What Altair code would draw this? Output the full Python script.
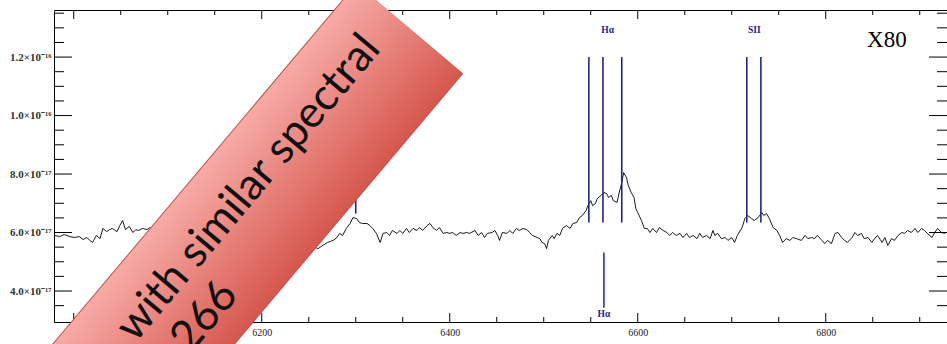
import altair as alt
import pandas as pd

# ---------------- data ----------------
wavelength = [
    5980, 5985, 5990, 5996, 6001, 6006, 6010, 6014, 6017, 6020, 6024, 6028, 6031, 6035, 6038,
    6041, 6046, 6049, 6052, 6055, 6059, 6063, 6066, 6069, 6073, 6078, 6081,
    6085, 6090, 6095, 6100, 6105, 6110, 6115, 6120, 6125, 6130, 6135, 6140, 6145, 6150, 6155,
    6160, 6165, 6170, 6175, 6180, 6185, 6190, 6195, 6200, 6205, 6210, 6215, 6220, 6225, 6230,
    6235, 6240, 6245, 6250, 6255,
    6260, 6265, 6270, 6276, 6280, 6283, 6286, 6290, 6294, 6297, 6301, 6304, 6307, 6312, 6315,
    6318, 6322, 6326, 6329, 6333, 6336, 6339, 6344, 6347, 6350, 6354, 6357, 6361, 6365, 6368,
    6371, 6376, 6379, 6382, 6386, 6389, 6393, 6397, 6400, 6403, 6407, 6411, 6414, 6418, 6421,
    6427, 6430, 6434, 6437, 6440, 6445, 6448, 6451, 6453, 6456, 6461, 6464, 6467, 6471, 6474,
    6478, 6482, 6485, 6488, 6493, 6496, 6498, 6501, 6503, 6505, 6509, 6511, 6514, 6517, 6520,
    6524, 6528, 6531, 6535, 6538, 6541, 6545, 6547, 6550, 6552, 6555, 6557, 6561, 6564, 6567,
    6569, 6572, 6574, 6578, 6580, 6583, 6585, 6588, 6590, 6593, 6596, 6598, 6600, 6604, 6607,
    6610, 6613, 6616, 6620, 6623, 6627, 6631, 6634, 6637, 6641, 6645, 6648, 6652, 6655, 6659,
    6663, 6666, 6669, 6673, 6677, 6680, 6682, 6685, 6689, 6693, 6696, 6700, 6703, 6706, 6711,
    6714, 6717, 6721, 6724, 6728, 6732, 6734, 6737, 6740, 6744, 6748, 6751, 6754, 6758, 6762,
    6765, 6769,
    6774, 6778, 6781, 6785, 6788, 6791, 6796, 6799, 6802, 6806, 6810, 6813, 6817, 6820, 6823,
    6828, 6831, 6834, 6838, 6841, 6845, 6849, 6852, 6855, 6860, 6863, 6866, 6870, 6873, 6877,
    6881, 6884, 6887, 6891, 6895, 6898, 6902, 6905, 6908, 6913, 6916, 6919, 6923, 6927,
]
flux = [  # units of 1e-16 erg/s/cm2/A
    0.590, 0.586, 0.593, 0.586, 0.583, 0.586, 0.576, 0.583, 0.573, 0.566, 0.590, 0.579, 0.614, 0.603, 0.610,
    0.614, 0.603, 0.624, 0.641, 0.610, 0.621, 0.600, 0.610, 0.607, 0.614, 0.610, 0.617,
    0.605, 0.612, 0.598, 0.606, 0.594, 0.603, 0.609, 0.596, 0.604, 0.592, 0.600, 0.588, 0.597, 0.604, 0.590,
    0.598, 0.585, 0.594, 0.583, 0.591, 0.579, 0.588, 0.577, 0.585, 0.573, 0.581, 0.570, 0.578, 0.566, 0.574,
    0.562, 0.570, 0.558, 0.565, 0.552,
    0.545, 0.556, 0.566, 0.573, 0.583, 0.597, 0.590, 0.614, 0.631, 0.651, 0.648, 0.634, 0.631, 0.631, 0.624,
    0.614, 0.597, 0.566, 0.597, 0.600, 0.590, 0.607, 0.597, 0.607, 0.597, 0.614, 0.600, 0.614, 0.607, 0.617,
    0.607, 0.624, 0.631, 0.617, 0.607, 0.617, 0.597, 0.600, 0.597, 0.600, 0.590, 0.600, 0.597, 0.600, 0.597,
    0.607, 0.590, 0.600, 0.583, 0.597, 0.600, 0.607, 0.590, 0.573, 0.600, 0.597, 0.607, 0.597, 0.614, 0.607,
    0.614, 0.610, 0.600, 0.590, 0.583, 0.579, 0.566, 0.562, 0.545, 0.573, 0.590, 0.579, 0.597, 0.590, 0.614,
    0.624, 0.614, 0.631, 0.634, 0.651, 0.658, 0.675, 0.692, 0.709, 0.692, 0.699, 0.716, 0.727, 0.737, 0.733,
    0.720, 0.727, 0.709, 0.703, 0.733, 0.771, 0.805, 0.788, 0.761, 0.737, 0.720, 0.682, 0.668, 0.641, 0.614,
    0.614, 0.600, 0.614, 0.600, 0.617, 0.607, 0.600, 0.590, 0.600, 0.590, 0.597, 0.583, 0.597, 0.583, 0.590,
    0.579, 0.597, 0.583, 0.590, 0.579, 0.607, 0.590, 0.597, 0.579, 0.583, 0.573, 0.583, 0.566, 0.590, 0.617,
    0.648, 0.658, 0.648, 0.641, 0.651, 0.668, 0.658, 0.665, 0.648, 0.617, 0.607, 0.590, 0.566, 0.579, 0.573,
    0.583, 0.579,
    0.573, 0.590, 0.579, 0.583, 0.579, 0.590, 0.573, 0.562, 0.573, 0.562, 0.597, 0.600, 0.583, 0.573, 0.566,
    0.583, 0.600, 0.590, 0.597, 0.579, 0.583, 0.566, 0.579, 0.590, 0.566, 0.583, 0.556, 0.579, 0.573, 0.590,
    0.600, 0.597, 0.607, 0.600, 0.614, 0.600, 0.614, 0.607, 0.597, 0.583, 0.600, 0.614, 0.600, 0.597,
]

# emission line markers (upper set)
line_names = ["[OI]", "[NII]", "Hα", "[NII]", "[SII]", "[SII]"]
line_wl = [6300, 6548, 6563, 6583, 6716, 6731]
line_top = [1.2, 1.2, 1.2, 1.2, 1.2, 1.2]
line_bottom = [0.665, 0.634, 0.634, 0.634, 0.634, 0.634]

# upper line labels
top_label_text = ["Hα", "SII"]
top_label_wl = [6568, 6724]
top_label_flux = [1.292, 1.292]

# lower marker
low_line_wl = [6564]
low_line_top = [0.532]
low_line_bottom = [0.343]
low_label_text = ["Hα"]
low_label_flux = [0.322]

# panel tag
tag_text = ["X80"]
tag_wl = [6865]
tag_flux = [1.257]

# axis ticks and labels
x_major = [6000, 6200, 6400, 6600, 6800]
x_minor = [6050, 6100, 6150, 6250, 6300, 6350, 6450, 6500, 6550, 6650, 6700, 6750, 6850, 6900]
y_major = [0.4, 0.6, 0.8, 1.0, 1.2]
y_major_labels = ["4.0×10⁻¹⁷", "6.0×10⁻¹⁷", "8.0×10⁻¹⁷", "1.0×10⁻¹⁶", "1.2×10⁻¹⁶"]
y_minor = [0.35, 0.45, 0.5, 0.55, 0.65, 0.7, 0.75, 0.85, 0.9, 0.95, 1.05, 1.1, 1.15, 1.25, 1.3, 1.35]

x_domain = [5979, 6929]
y_domain = [0.294, 1.361]

# overlay banner (slide annotation) in data units
banner_start = [6357.4, 1.2977]
banner_end = [6028.7, 0.0443]
banner_lines = ["with similar spectral", "266"]
banner_line_wl = [6186.2, 6139.4]
banner_line_flux = [0.752, 0.311]

# ---------------- chart ----------------
W, H = 893, 312
xs = alt.Scale(domain=x_domain, nice=False, zero=False)
ys = alt.Scale(domain=y_domain, nice=False, zero=False)

label_expr = " : ".join(
    f"abs(datum.value-{v})<1e-6 ? '{t}'" for v, t in zip(y_major, y_major_labels)
) + " : ''"

spec_df = pd.DataFrame({"wl": wavelength, "flux": flux})
spectrum = alt.Chart(spec_df).mark_line(color="black", strokeWidth=0.9).encode(
    x=alt.X("wl:Q", scale=xs, axis=alt.Axis(
        values=x_major, format="d", ticks=False, domain=False, grid=False, title=None,
        labelFont="Liberation Serif", labelFontSize=10, labelColor="#222", labelPadding=5)),
    y=alt.Y("flux:Q", scale=ys, axis=alt.Axis(
        values=y_major, labelExpr=label_expr, ticks=False, domain=False, grid=False, title=None,
        labelFont="Liberation Serif", labelFontSize=11, labelFontWeight="bold",
        labelColor="#333", labelPadding=3)),
)

LINE_BLUE = "#22228c"
lines_df = pd.DataFrame({"name": line_names, "wl": line_wl, "top": line_top, "bot": line_bottom})
em_lines = alt.Chart(lines_df).mark_rule(color=LINE_BLUE, strokeWidth=1.6).encode(
    x=alt.X("wl:Q", scale=xs), y=alt.Y("top:Q", scale=ys), y2="bot:Q")

top_lab_df = pd.DataFrame({"t": top_label_text, "wl": top_label_wl, "f": top_label_flux})
top_labels = alt.Chart(top_lab_df).mark_text(
    color=LINE_BLUE, font="Liberation Serif", fontSize=9.5, fontWeight="bold", baseline="middle"
).encode(x=alt.X("wl:Q", scale=xs), y=alt.Y("f:Q", scale=ys), text="t:N")

low_df = pd.DataFrame({"wl": low_line_wl, "top": low_line_top, "bot": low_line_bottom,
                       "t": low_label_text, "f": low_label_flux})
low_line = alt.Chart(low_df).mark_rule(color="#3030b0", strokeWidth=1.6).encode(
    x=alt.X("wl:Q", scale=xs), y=alt.Y("top:Q", scale=ys), y2="bot:Q")
low_label = alt.Chart(low_df).mark_text(
    color=LINE_BLUE, font="Liberation Serif", fontSize=9.5, fontWeight="bold", baseline="middle"
).encode(x=alt.X("wl:Q", scale=xs), y=alt.Y("f:Q", scale=ys), text="t:N")

tag_df = pd.DataFrame({"t": tag_text, "wl": tag_wl, "f": tag_flux})
tag = alt.Chart(tag_df).mark_text(
    color="black", font="Liberation Serif", fontSize=23, baseline="middle"
).encode(x=alt.X("wl:Q", scale=xs), y=alt.Y("f:Q", scale=ys), text="t:N")

# frame ticks (inward)
def xticks(vals, ln):
    d = pd.DataFrame({"v": vals})
    b = alt.Chart(d).mark_rule(color="black", strokeWidth=1).encode(
        x=alt.X("v:Q", scale=xs), y=alt.value(H), y2=alt.value(H - ln))
    t = alt.Chart(d).mark_rule(color="black", strokeWidth=1).encode(
        x=alt.X("v:Q", scale=xs), y=alt.value(0), y2=alt.value(ln))
    return [b, t]

def yticks(vals, ln):
    d = pd.DataFrame({"v": vals})
    l = alt.Chart(d).mark_rule(color="black", strokeWidth=1).encode(
        y=alt.Y("v:Q", scale=ys), x=alt.value(0), x2=alt.value(ln))
    r = alt.Chart(d).mark_rule(color="black", strokeWidth=1).encode(
        y=alt.Y("v:Q", scale=ys), x=alt.value(W), x2=alt.value(W - ln))
    return [l, r]

ticks = xticks(x_major, 9) + xticks(x_minor, 5) + yticks(y_major, 18) + yticks(y_minor, 10)

banner_df = pd.DataFrame({"x": [banner_start[0]], "y": [banner_start[1]],
                          "x2": [banner_end[0]], "y2": [banner_end[1]]})
banner_edge = alt.Chart(banner_df).mark_rule(
    color="#c0504d", strokeWidth=140, strokeCap="butt"
).encode(x=alt.X("x:Q", scale=xs), y=alt.Y("y:Q", scale=ys), x2="x2:Q", y2="y2:Q")
banner = alt.Chart(banner_df).mark_rule(
    stroke=alt.Gradient(
        gradient="linear", x1=0, y1=0, x2=1, y2=1,
        stops=[alt.GradientStop(offset=0.35, color="#f8aca8"),
               alt.GradientStop(offset=0.65, color="#d5564c")]),
    strokeWidth=138, strokeCap="butt"
).encode(x=alt.X("x:Q", scale=xs), y=alt.Y("y:Q", scale=ys), x2="x2:Q", y2="y2:Q")

btext_df = pd.DataFrame({"t": banner_lines, "wl": banner_line_wl, "f": banner_line_flux})
banner_text = alt.Chart(btext_df).mark_text(
    color="#111111", font="Lato", fontSize=44, angle=310, align="center", baseline="middle"
).encode(x=alt.X("wl:Q", scale=xs), y=alt.Y("f:Q", scale=ys), text="t:N")

chart = alt.layer(
    spectrum, em_lines, top_labels, low_line, low_label, tag, *ticks,
    banner_edge, banner, banner_text
).properties(
    width=W, height=H,
    autosize=alt.AutoSizeParams(type="none"),
    padding={"left": 54, "top": 10, "right": 0, "bottom": 22},
    background="white",
).configure_view(stroke="black", strokeWidth=1)

chart.save("out.html", embed_options={"renderer": "svg", "actions": False})
